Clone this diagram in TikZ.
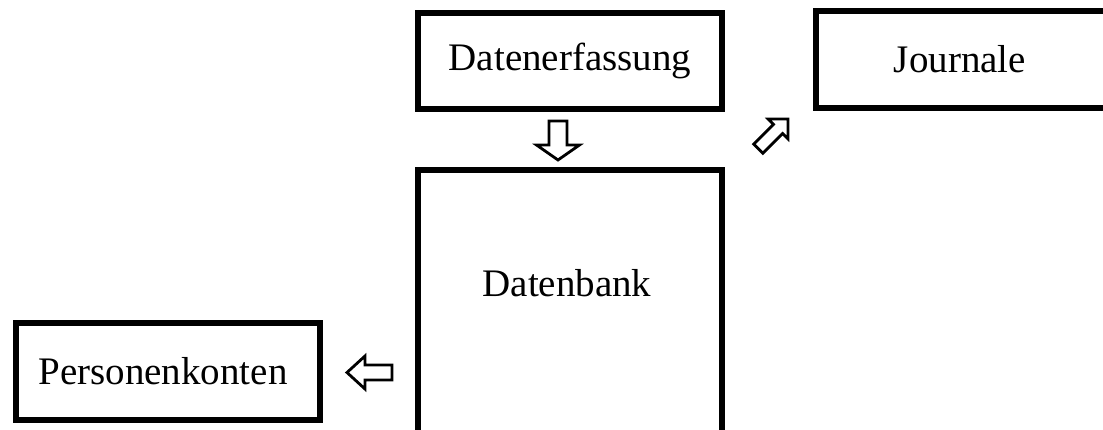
\documentclass[tikz,border=0pt]{standalone}
\usepackage{fontspec}
\setmainfont{Liberation Serif}
\begin{document}
\begin{tikzpicture}[x=1pt,y=-1pt,
  box/.style={draw=black, line width=6.5pt, inner sep=0pt, fill=white,
    font=\fontsize{39}{45}\selectfont},
  lbl/.style={inner sep=0pt, font=\fontsize{39}{45}\selectfont},
  arrowline/.style={draw=black, fill=white, line width=2.8pt, line join=miter}]
\useasboundingbox (0,0) rectangle (1103,430);
\begin{scope}
\clip (0,0) rectangle (1103,430);
\node[box, minimum width=304pt, minimum height=96pt] (erf) at (570,61) {Datenerfassung};
\node[box, minimum width=294pt, minimum height=97pt] (jour) at (963,59.5) {\hspace*{-6pt}Journale};
\node[box, minimum width=304pt, minimum height=270pt] (bank) at (570,305) {};
\node[lbl] (banklabel) at (567,283) {Datenbank};
\node[box, minimum width=304pt, minimum height=97pt] (pers) at (168,371.5) {\hspace*{-10pt}Personenkonten};
\end{scope}
% block arrows
\coordinate (a1) at (558,121);
\coordinate (a2) at (392,372.5);
\coordinate (a3) at (758.3,148.7);
\draw[arrowline, shift={(a1)}, rotate=-90]
  (0,-9) -- (24,-9) -- (24,-21.5) -- (39,0) -- (24,21.5) -- (24,9) -- (0,9) -- cycle;
\draw[arrowline, shift={(a2)}, rotate=180]
  (0,-7.5) -- (27,-7.5) -- (27,-16.5) -- (45,0) -- (27,16.5) -- (27,7.5) -- (0,7.5) -- cycle;
\draw[arrowline, shift={(a3)}, rotate=45]
  (0,-6.5) -- (28,-6.5) -- (28,-14) -- (42,0) -- (28,14) -- (28,6.5) -- (0,6.5) -- cycle;
\end{tikzpicture}
\end{document}
